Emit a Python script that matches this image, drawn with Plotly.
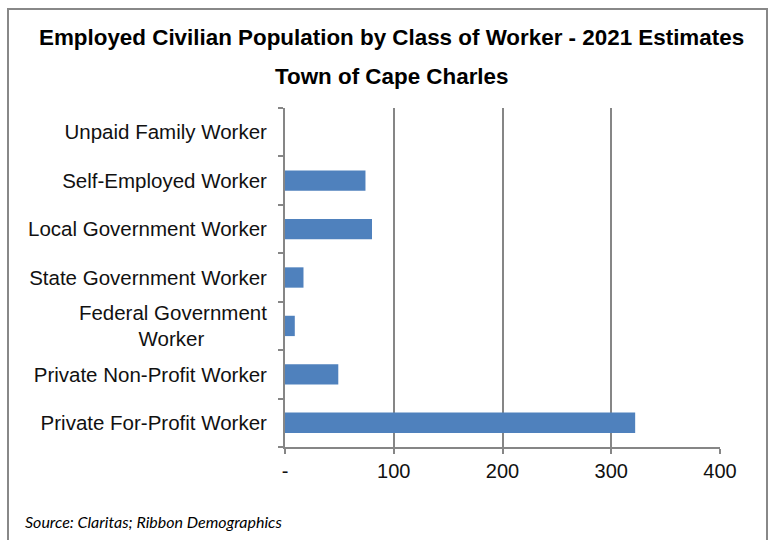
import plotly.graph_objects as go

NB = "&nbsp;"
categories = [
    "Private For-Profit Worker",
    "Private Non-Profit Worker",
    "Federal Government<br>Worker" + NB * 11,
    "State Government Worker",
    "Local Government Worker",
    "Self-Employed Worker",
    "Unpaid Family Worker",
]
values = [322, 49, 9, 17, 80, 74, 0]
x_tick_vals = [0, 100, 200, 300, 400]
x_tick_text = ["-", "100", "200", "300", "400"]

title_main = "Employed Civilian Population by Class of Worker - 2021 Estimates"
title_sub = "Town of Cape Charles"
source_text = "Source: Claritas; Ribbon Demographics"

W, H = 773, 540
L, R, T, B = 285, 53, 108, 93
pw, ph = W - L - R, H - T - B

def px_x(px):
    return (px - L) / pw

def px_y(py):
    return (H - B - py) / ph

grey = "#868686"

fig = go.Figure(go.Bar(
    x=values, y=categories, orientation="h",
    marker=dict(color="#4F81BD", line=dict(width=0)),
))

fig.update_layout(
    width=W, height=H,
    margin=dict(l=L, r=R, t=T, b=B, pad=0),
    paper_bgcolor="white", plot_bgcolor="white",
    font=dict(family="Liberation Sans, Arial, sans-serif", size=20, color="#111"),
    bargap=0.58,
    showlegend=False,
    xaxis=dict(
        range=[0, 400], tickvals=x_tick_vals, ticktext=x_tick_text,
        showgrid=True, gridcolor=grey, gridwidth=2,
        showline=True, linecolor=grey, linewidth=2,
        ticks="outside", ticklen=5, tickcolor=grey, tickwidth=2,
        zeroline=False, tickfont=dict(size=20),
    ),
    yaxis=dict(
        categoryorder="array", categoryarray=categories,
        showgrid=False, showline=True, linecolor=grey, linewidth=2,
        ticks="outside", ticklen=5, tickcolor=grey, tickwidth=2,
        tickson="boundaries", ticklabelstandoff=12,
        tickfont=dict(size=20.5),
    ),
    shapes=[dict(
        type="rect", xref="paper", yref="paper",
        x0=px_x(8), x1=px_x(767), y0=px_y(548), y1=px_y(9),
        line=dict(color="#888888", width=2), fillcolor="rgba(0,0,0,0)", layer="below",
    )],
    annotations=[
        dict(text="<b>" + title_main + "</b>", xref="paper", yref="paper",
             x=px_x(391), y=px_y(38), xanchor="center", yanchor="middle",
             showarrow=False, font=dict(size=22.4, color="#000")),
        dict(text="<b>" + title_sub + "</b>", xref="paper", yref="paper",
             x=px_x(391), y=px_y(77), xanchor="center", yanchor="middle",
             showarrow=False, font=dict(size=22.4, color="#000")),
        dict(text="<i>" + source_text + "</i>", xref="paper", yref="paper",
             x=px_x(23), y=px_y(521), xanchor="left", yanchor="middle",
             showarrow=False, font=dict(family="Lato, Open Sans, sans-serif", size=16, color="#000")),
    ],
)

fig.write_html("out.html", config={"displayModeBar": False},
               post_script="document.body.style.margin='0';")
